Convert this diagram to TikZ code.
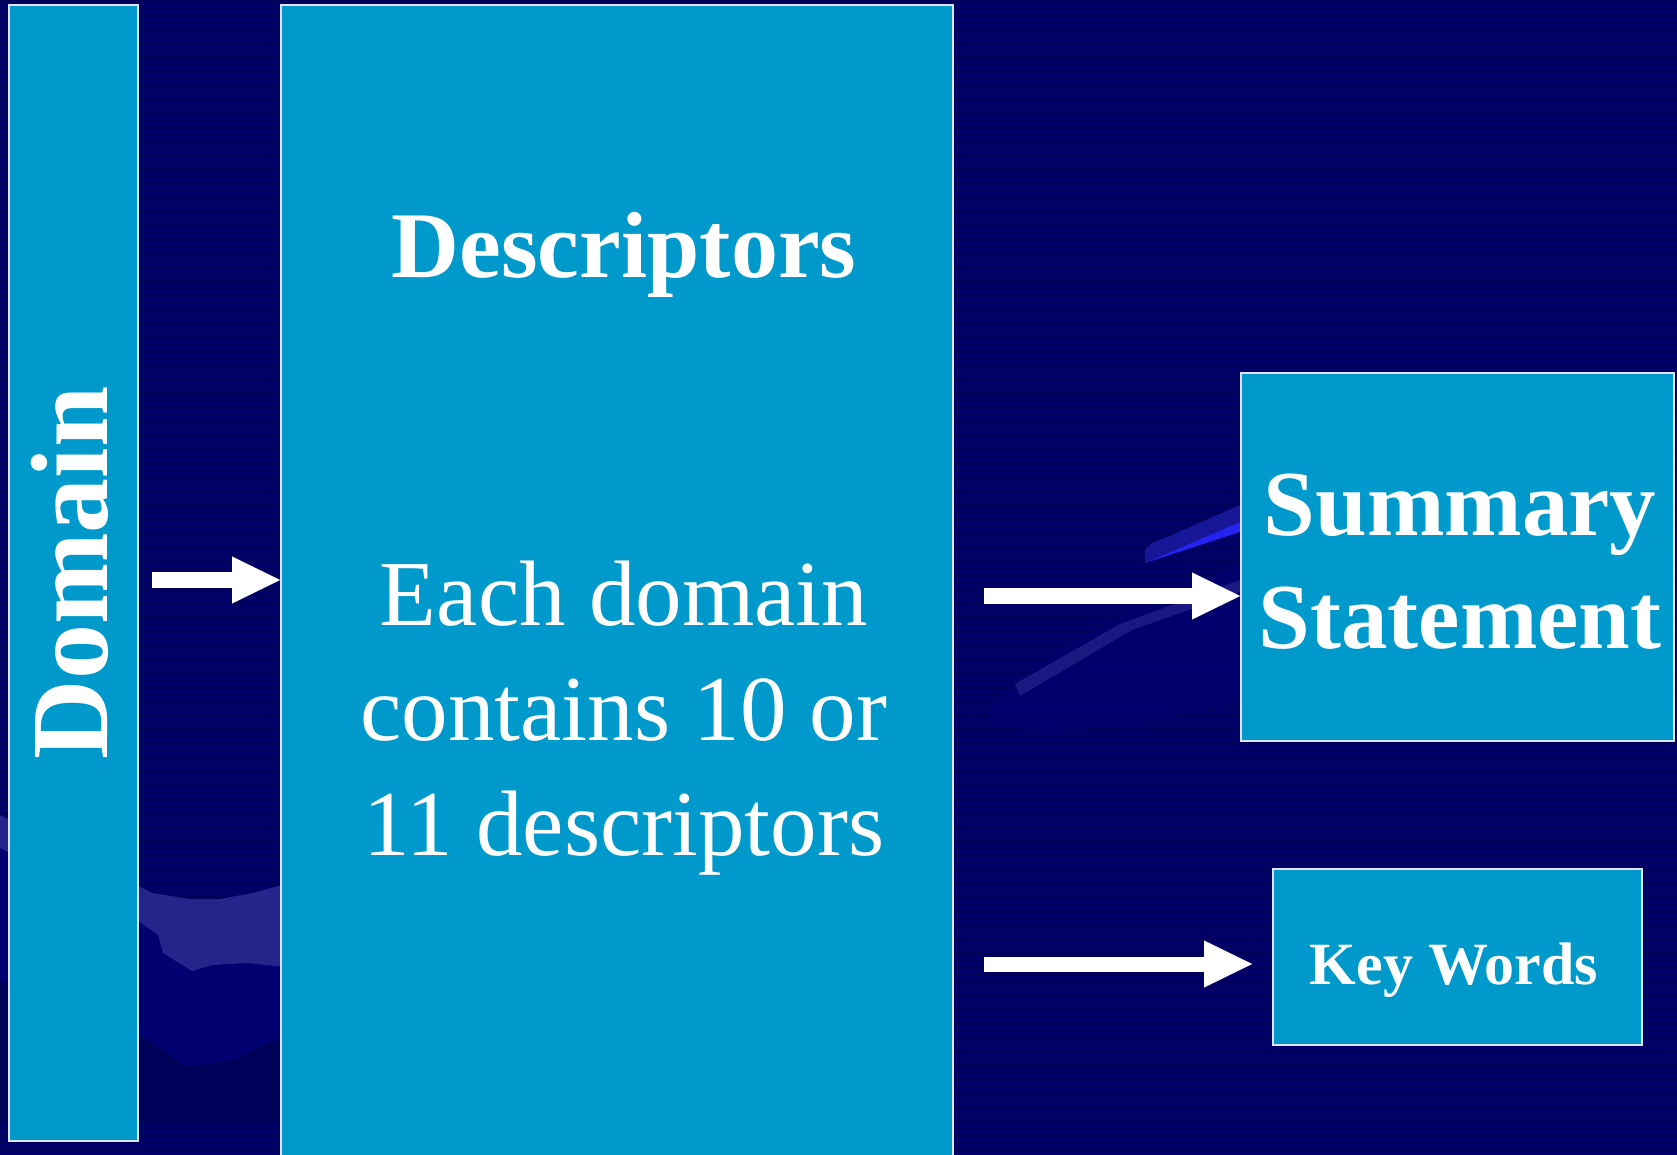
\documentclass[tikz,border=0pt]{standalone}
\usepackage{fontspec}
\setmainfont{Liberation Serif}
\usetikzlibrary{arrows.meta}
\definecolor{navy}{RGB}{0,0,104}
\definecolor{navystripe}{RGB}{0,0,92}
\definecolor{boxblue}{RGB}{0,153,204}
\definecolor{boxline}{RGB}{225,225,240}
\definecolor{bandlight}{RGB}{36,36,138}
\definecolor{navydark}{RGB}{0,0,88}
\definecolor{navymid}{RGB}{0,0,112}
\definecolor{glowblue}{RGB}{36,36,240}
\definecolor{softblue}{RGB}{22,22,150}
\begin{document}
\begin{tikzpicture}[x=1pt,y=-1pt,
  panel/.style={draw=boxline, line width=2pt, fill=boxblue, inner sep=0pt, anchor=north west},
  lbl/.style={text=white, inner sep=0pt},
  blockarrow/.style={white, line width=16pt, -{Triangle[length=48pt,width=47pt,line width=0.1pt]}}]
\useasboundingbox (0,0) rectangle (1677,1155);
\clip (0,0) rectangle (1677,1155);
% background
\fill[navy] (0,0) rectangle (1677,1155);
\foreach \yy in {0,7,...,1155} \fill[navystripe] (0,\yy) rectangle (1677,\yy+3);
% decoration bottom left
\fill[navymid] (0,848) -- (137,920) -- (158,935) -- (163,953) -- (192,971) -- (213,965) -- (247,963) -- (285,967)
  -- (285,1035) -- (233,1060) -- (187,1067) -- (137,1033) -- (0,980) -- cycle;
\fill[navydark] (0,980) -- (137,1033) -- (187,1067) -- (233,1060) -- (285,1035) -- (285,1122) -- (0,1122) -- cycle;
\fill[bandlight] (0,815) -- (137,885) -- (152,893) -- (190,899) -- (220,899) -- (253,893) -- (285,884)
  -- (285,967) -- (247,963) -- (213,965) -- (192,971) -- (163,953) -- (158,935) -- (137,920) -- (0,848) -- cycle;
% decoration middle right
\fill[navymid, opacity=0.7] (990,705) -- (1060,650) -- (1140,605) -- (1240,565) -- (1240,700) -- (1150,722) -- (1050,732) -- (990,722) -- cycle;
\fill[bandlight, opacity=0.7] (1015,684) -- (1120,624) -- (1240,580) -- (1240,592) -- (1132,630) -- (1020,696) -- cycle;
\fill[softblue] (1145,563) -- (1145,550) -- (1152,543) -- (1165,538) -- (1240,505) -- (1240,522) -- cycle;
\fill[glowblue] (1145,563) -- (1240,522) -- (1240,532) -- cycle;
% boxes
\node[panel, minimum width=129pt, minimum height=1136pt] (domain) at (8,4) {};
\node[panel, minimum width=672pt, minimum height=1170pt] (descr) at (280,4) {};
\node[panel, minimum width=433pt, minimum height=368pt] (summary) at (1240,372) {};
\node[panel, minimum width=369pt, minimum height=176pt] (keywords) at (1272,868) {};
% texts
\node[lbl, font=\bfseries\fontsize{110}{110}\selectfont, rotate=90, anchor=base] (domaintext) at (107,573) {Domain};
\node[lbl, font=\bfseries\fontsize{94}{94}\selectfont, anchor=base] (descrtitle) at (624,278) {Descriptors};
\node[lbl, font=\fontsize{93}{115}\selectfont, align=center, anchor=base] (descrbody) at (624,855) {Each domain\\contains 10 or\\11 descriptors};
\node[lbl, font=\bfseries\fontsize{93}{113}\selectfont, align=center, anchor=base] (summarytext) at (1460,648) {Summary\\Statement};
\node[lbl, font=\bfseries\fontsize{60}{60}\selectfont, anchor=base] (keytext) at (1454,984) {Key Words};
% arrows
\coordinate (t1) at (152,580);
\coordinate (t2) at (984,596);
\coordinate (t3) at (984,964);
\draw[blockarrow] (t1) -- (t1 -| descr.west);
\draw[blockarrow] (t2) -- (t2 -| summary.west);
\draw[blockarrow, line width=15pt, shorten >=20pt] (t3) -- (t3 -| keywords.west);
\end{tikzpicture}
\end{document}
